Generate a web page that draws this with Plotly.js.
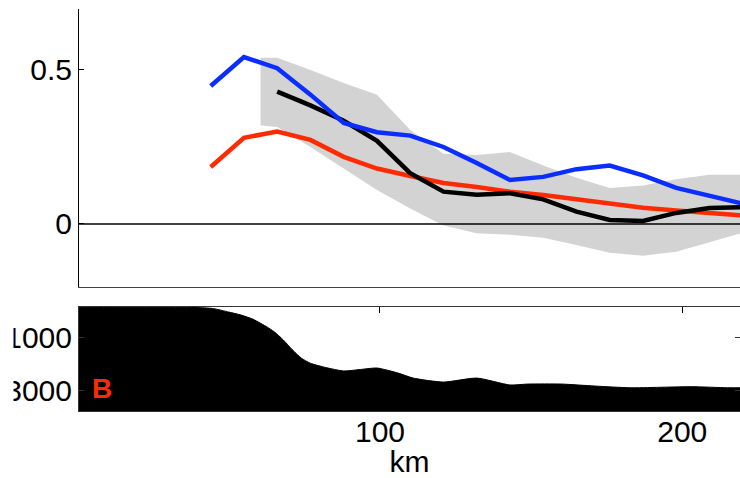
<!DOCTYPE html>
<html>
<head>
<meta charset="utf-8">
<script src="https://cdn.plot.ly/plotly-3.0.1.min.js"></script>
<style>html,body{margin:0;padding:0;background:#fff;}#chart{width:740px;height:478px;}</style>
</head>
<body>
<div id="chart"></div>
<script>
// distance along section (km) for the model/observation curves
const kmGrid = [44, 55, 66, 77, 88, 99, 110, 121, 132, 143, 154, 165, 176, 187, 198, 209, 220];
const blueSeries = [0.448, 0.542, 0.506, 0.42, 0.328, 0.298, 0.287, 0.25, 0.198, 0.143, 0.153, 0.178, 0.19, 0.158, 0.117, 0.09, 0.066];
const redSeries = [0.185, 0.28, 0.30, 0.273, 0.218, 0.18, 0.156, 0.133, 0.12, 0.105, 0.094, 0.08, 0.065, 0.053, 0.044, 0.036, 0.028];
const blackKm = [66, 77, 88, 99, 110, 121, 132, 143, 154, 165, 176, 187, 198, 209, 220];
const blackSeries = [0.43, 0.385, 0.335, 0.27, 0.165, 0.105, 0.095, 0.10, 0.08, 0.04, 0.013, 0.01, 0.036, 0.052, 0.055];
// shaded spread around the black curve
const bandKm = [60.5, 66, 77, 88, 99, 110, 121, 132, 143, 154, 165, 176, 187, 198, 209, 220];
const bandUpper = [0.54, 0.54, 0.50, 0.458, 0.42, 0.305, 0.228, 0.224, 0.234, 0.19, 0.15, 0.117, 0.125, 0.145, 0.16, 0.16];
const bandLower = [0.32, 0.315, 0.25, 0.18, 0.11, 0.05, -0.005, -0.03, -0.035, -0.045, -0.068, -0.093, -0.103, -0.09, -0.06, -0.028];
// bathymetry profile (depth in m)
const bathyKm = [0, 40, 45, 50, 54, 58, 62.6, 65, 68, 71, 74, 77, 82, 88, 94, 99, 106, 111, 121, 132, 143, 149, 160, 171, 183, 203, 215, 220];
const bathyDepth = [-110, -110, -70, 60, 170, 330, 620, 800, 1110, 1480, 1800, 1990, 2150, 2280, 2220, 2170, 2360, 2550, 2700, 2550, 2810, 2775, 2775, 2850, 2915, 2875, 2915, 2915];
const bathyBottom = 3792;
const yTicks = [0, 0.5];
const yTickText = ['0', '0.5'];
const depthTicks = [1000, 3000];
const depthTickText = ['1000', '3000'];
const xTicks = [100, 200];
const xTickText = ['100', '200'];

const FONT = 'Liberation Sans, Arial, Helvetica, sans-serif';
const BLUE = '#0a2eff';
const RED = '#ff2a00';

const traces = [
  {x: bandKm.concat(bandKm.slice().reverse()), y: bandUpper.concat(bandLower.slice().reverse()),
   xaxis: 'x', yaxis: 'y', type: 'scatter', mode: 'lines', fill: 'toself',
   fillcolor: '#d3d3d3', line: {width: 0, color: '#d3d3d3'}, hoverinfo: 'skip'},
  {x: kmGrid, y: redSeries, xaxis: 'x', yaxis: 'y', type: 'scatter', mode: 'lines',
   line: {color: RED, width: 4.5}},
  {x: blackKm, y: blackSeries, xaxis: 'x', yaxis: 'y', type: 'scatter', mode: 'lines',
   line: {color: '#000', width: 4.5}},
  {x: kmGrid, y: blueSeries, xaxis: 'x', yaxis: 'y', type: 'scatter', mode: 'lines',
   line: {color: BLUE, width: 4.5}},
  {x: bathyKm, y: bathyKm.map(() => bathyBottom), xaxis: 'x2', yaxis: 'y2', type: 'scatter',
   mode: 'lines', line: {width: 0, color: '#000'}, hoverinfo: 'skip'},
  {x: bathyKm, y: bathyDepth, xaxis: 'x2', yaxis: 'y2', type: 'scatter', mode: 'lines',
   fill: 'tonexty', fillcolor: '#000', line: {width: 1, color: '#000', shape: 'spline', smoothing: 0.6}}
];

const layout = {
  width: 740, height: 478,
  margin: {l: 79, r: 0, t: 9, b: 67},
  paper_bgcolor: '#fff', plot_bgcolor: '#fff',
  showlegend: false,
  font: {family: FONT, size: 30, color: '#000'},
  xaxis: {domain: [0, 1], anchor: 'y', range: [0.43, 219.1], showgrid: false, zeroline: false,
          showline: true, linecolor: '#444', linewidth: 1, ticks: '', showticklabels: false},
  yaxis: {domain: [0.3085, 1], anchor: 'x', range: [-0.2045, 0.698], showgrid: false, zeroline: false,
          showline: true, linecolor: '#000', linewidth: 1, ticks: 'inside', ticklen: 5, tickcolor: '#000',
          tickvals: yTicks, ticktext: yTickText, tickfont: {family: FONT, size: 30, color: '#000'}},
  xaxis2: {domain: [0, 1], anchor: 'y2', matches: 'x', range: [0.43, 219.1], showgrid: false, zeroline: false,
           showline: true, mirror: 'ticks', linecolor: '#333', linewidth: 1, ticks: 'inside', ticklen: 6,
           tickcolor: '#000', tickvals: xTicks, ticktext: xTickText, ticklabelstandoff: -6,
           tickfont: {family: FONT, size: 30, color: '#000'},
           title: {text: 'km', font: {family: FONT, size: 30, color: '#000'}, standoff: 8}},
  yaxis2: {domain: [0, 0.2587], anchor: 'x2', range: [bathyBottom, -132], showgrid: false, zeroline: false,
           showline: true, mirror: 'ticks', linecolor: '#333', linewidth: 1, ticks: 'inside', ticklen: 5,
           tickcolor: '#333', tickvals: depthTicks, ticktext: depthTickText,
           tickfont: {family: FONT, size: 30, color: '#000'}},
  shapes: [
    {type: 'line', xref: 'x domain', yref: 'y', x0: 0, x1: 1, y0: 0, y1: 0,
     line: {color: '#000', width: 1.6}, layer: 'above'},
    {type: 'rect', xref: 'paper', yref: 'paper', x0: -0.13, x1: -0.0991, y0: -0.05, y1: 0.28,
     fillcolor: '#fff', line: {width: 0}, layer: 'above'}
  ],
  annotations: [
    {text: '<b>B</b>', xref: 'paper', yref: 'paper', x: 0.0348, y: 0.0572,
     xanchor: 'center', yanchor: 'middle', showarrow: false,
     font: {family: FONT, size: 28, color: RED}}
  ]
};

Plotly.newPlot('chart', traces, layout, {displayModeBar: false, staticPlot: true});
</script>
</body>
</html>
